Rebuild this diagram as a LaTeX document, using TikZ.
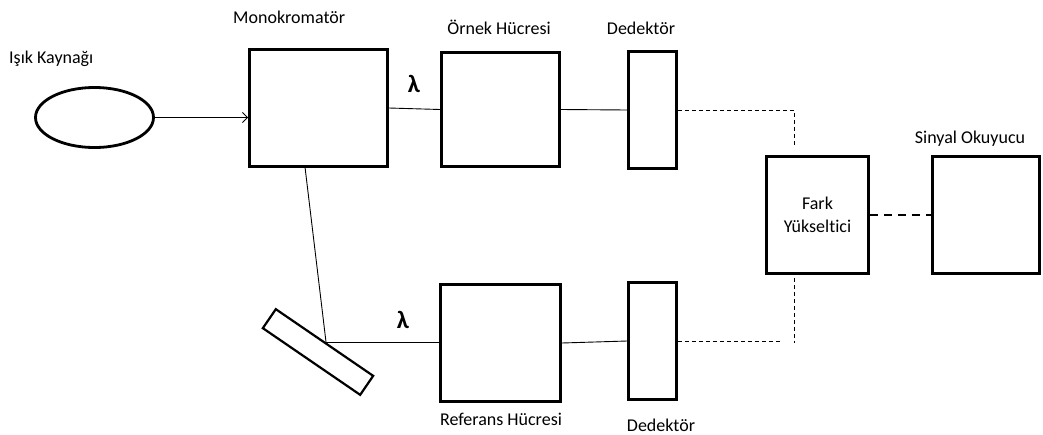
\documentclass[tikz,border=0pt]{standalone}
\usepackage{fontspec}
\setmainfont{Carlito}[Ligatures=NoCommon]
\usetikzlibrary{arrows.meta,shapes.geometric}
\begin{document}
\begin{tikzpicture}[x=1pt,y=-1pt,
  box/.style={draw,line width=2.8pt,rectangle,inner sep=0pt},
  lbl/.style={font=\fontsize{18}{22}\selectfont,inner sep=0pt},
  lam/.style={font=\fontsize{25}{28}\selectfont\bfseries,inner sep=0pt},
  conn/.style={line width=0.9pt},
  dconn/.style={line width=0.9pt,dash pattern=on 4pt off 3pt},
  tconn/.style={line width=2pt,dash pattern=on 8pt off 6pt}]
\useasboundingbox (0,0) rectangle (1043,434);
% boxes
\node[draw,ellipse,line width=2.8pt,minimum width=118pt,minimum height=60pt,inner sep=0pt] (src) at (94.5,117.5) {};
\node[box,minimum width=138pt,minimum height=117pt] (mono) at (318.5,108) {};
\node[box,minimum width=118pt,minimum height=114pt] (sample) at (500.5,109.5) {};
\node[box,minimum width=48pt,minimum height=117pt] (det1) at (652.5,110) {};
\node[box,minimum width=102pt,minimum height=117pt,align=center,font=\fontsize{18}{23}\selectfont] (fark) at (817.5,215) {Fark\\Yükseltici};
\node[box,minimum width=107pt,minimum height=117pt] (reader) at (986,215) {};
\node[box,minimum width=120pt,minimum height=117pt] (ref) at (500.5,343) {};
\node[box,minimum width=48pt,minimum height=117pt] (det2) at (652.5,341) {};
\node[draw,line width=2.2pt,rectangle,inner sep=0pt,minimum width=118pt,minimum height=23pt,rotate=-34.4] (mirror) at (318,352) {};
% labels
\node[lbl,anchor=base west] (l1) at (9,63) {Işık Kaynağı};
\node[lbl,anchor=base west] (l2) at (233,23) {Monokromatör};
\node[lbl,anchor=base] (l3) at (499,34) {Örnek Hücresi};
\node[lbl,anchor=base] (l4) at (641,34) {Dedektör};
\node[lbl,anchor=base] (l5) at (970,143) {Sinyal Okuyucu};
\node[lbl,anchor=base] (l6) at (501,425) {Referans Hücresi};
\node[lbl,anchor=base] (l7) at (661,431) {Dedektör};
\node[lam] (lam1) at (414,84) {λ};
\node[lam] (lam2) at (403,320) {λ};
% coordinates
\coordinate (c1) at (794,110);
\coordinate (c2) at (794,147);
\coordinate (c3) at (794,278);
\coordinate (c4) at (794,343);
\coordinate (c5) at (782,341);
\coordinate (mb) at (305,167);
\coordinate (mp) at (326,342);
% connectors
\draw[conn,-{Straight Barb[length=5pt,width=10pt]}] (src.east) -- (src.east -| mono.west);
\draw[conn] (mono.east) -- (sample.west);
\draw[conn] (sample.east) -- (det1.west);
\draw[dconn] (det1.east) -- (c1) -- (c2);
\draw[dconn] (c3) -- (c4);
\draw[dconn] (det2.east) -- (c5);
\draw[tconn] (fark.east) -- (reader.west);
\draw[conn] (mb) -- (mp);
\draw[conn] (mp) -- (mp -| ref.west);
\draw[conn] (ref.east) -- (det2.west);
\end{tikzpicture}
\end{document}
